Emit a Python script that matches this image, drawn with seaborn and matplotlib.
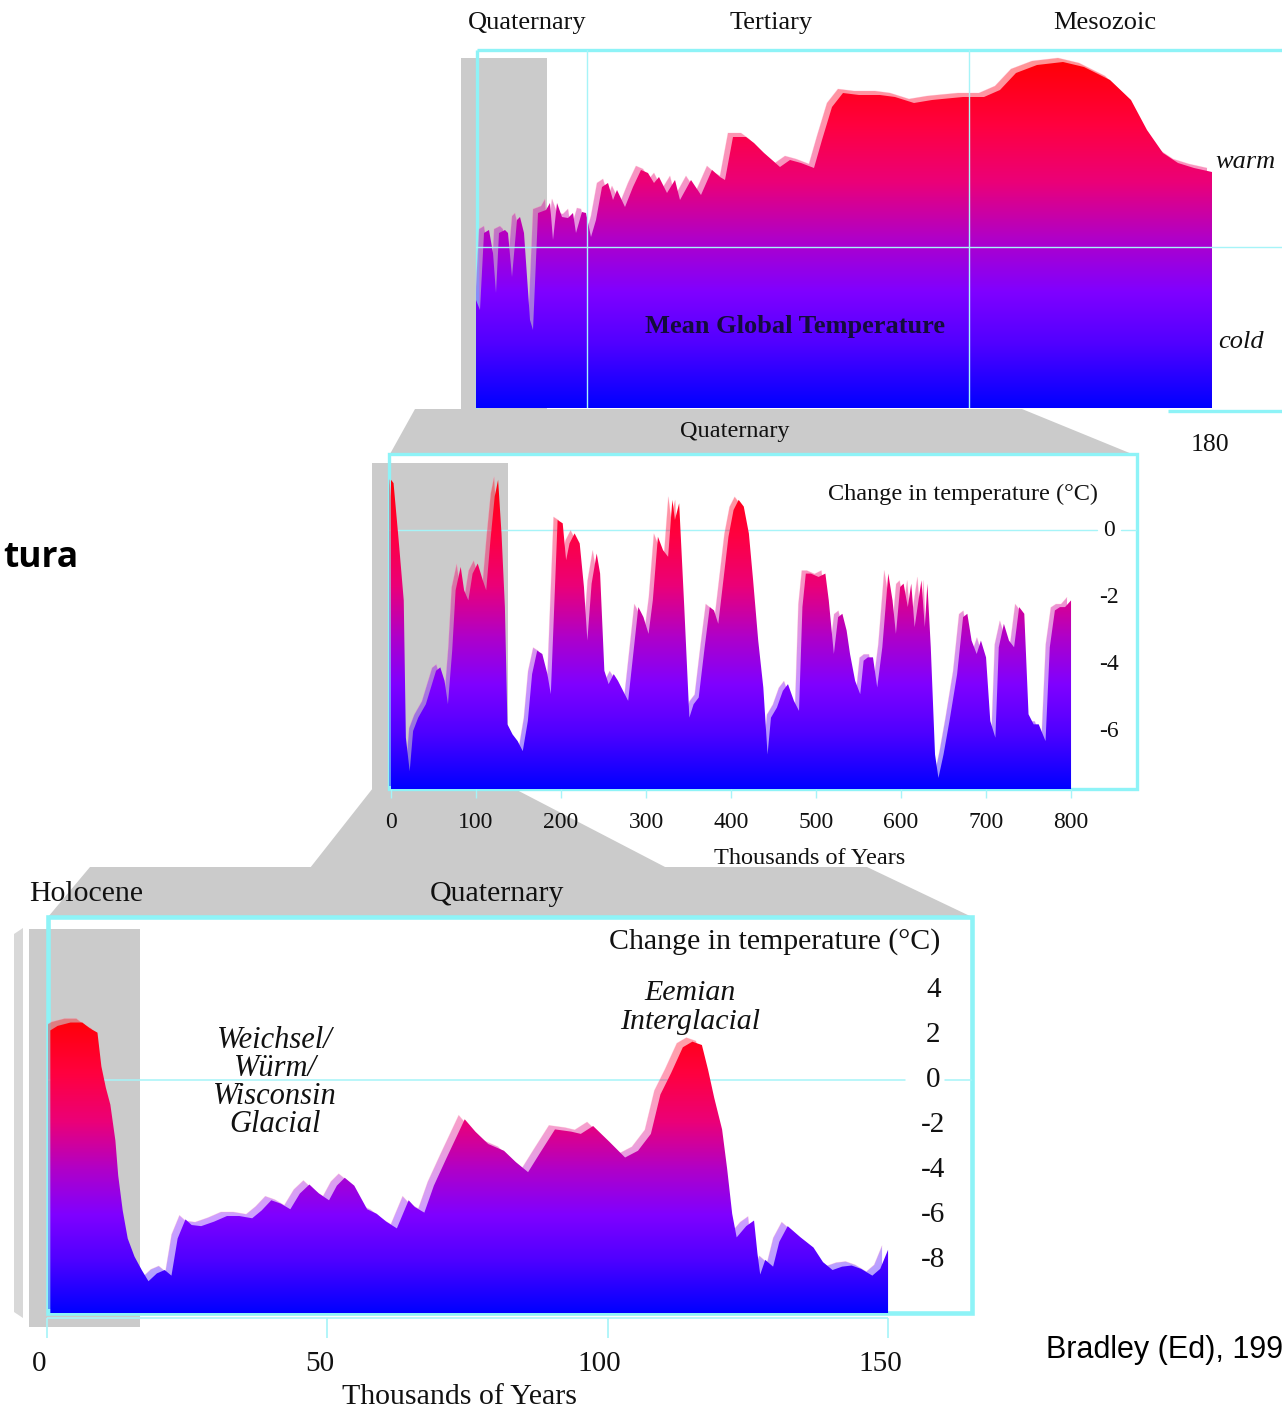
import numpy as np
import matplotlib
matplotlib.use("Agg")
import matplotlib.pyplot as plt
import seaborn as sns
from matplotlib.colors import LinearSegmentedColormap
from matplotlib.patches import Polygon, Rectangle
from matplotlib.transforms import ScaledTranslation, blended_transform_factory

# ---------------- data ----------------
# Panel 1: mean global temperature (relative units) along the geological timeline
P1_POS = [0, 4, 8, 13, 17, 20, 23, 29, 32, 36, 41, 44, 48, 54, 57, 62, 70, 74, 77, 81,
          86, 92, 97, 100, 106, 110, 115, 120, 126, 132, 137, 141, 149, 157, 165, 172,
          178, 183, 191, 199, 204, 215, 225, 236, 244, 249, 257, 270, 278, 288, 304,
          314, 325, 338, 346, 356, 367, 383, 404, 419, 438, 456, 466, 487, 508, 524,
          540, 561, 587, 608, 634, 655, 671, 687, 702, 718, 736]
P1_TEMP = [108, 98, 175, 178, 155, 115, 175, 178, 175, 131, 188, 191, 175, 88, 78, 195,
           198, 205, 168, 205, 191, 190, 195, 175, 196, 195, 171, 188, 221, 225, 208,
           218, 201, 221, 238, 235, 225, 231, 215, 228, 208, 228, 213, 238, 231, 228,
           271, 271, 265, 255, 241, 248, 245, 240, 268, 301, 315, 313, 313, 311, 305,
           308, 309, 311, 311, 318, 335, 343, 346, 341, 328, 308, 278, 255, 245, 240, 236]
P1_ERA_BOUNDS = [111, 493]
P1_WARM_COLD = 161

# Panel 2: last 800 kyr
P2_KYR = [0, 3, 9, 15, 17.5, 22, 26, 32, 41, 47, 53, 58, 63, 67, 72, 76, 82, 86, 91, 96,
          102, 108, 112, 117, 122, 126, 130, 134, 137, 143, 149, 155, 161, 166, 172, 178,
          184, 188, 192, 196, 202, 206, 210, 216, 222, 227, 231, 236, 242, 246, 251, 256,
          262, 267, 273, 279, 285, 291, 297, 303, 308, 314, 320, 326, 331, 334, 339, 345,
          351, 356, 362, 369, 375, 380, 385, 391, 397, 403, 409, 415, 421, 426, 432, 438,
          443, 447, 454, 461, 467, 474, 480, 484, 488, 494, 503, 511, 515, 521, 526, 531,
          536, 540, 546, 552, 556, 561, 567, 572, 578, 585, 590, 594, 599, 603, 608, 612,
          616, 624, 628, 631, 635, 640, 644, 650, 657, 666, 673, 678, 683, 689, 694, 700,
          705, 711, 715, 721, 727, 733, 739, 745, 750, 756, 762, 770, 775, 781, 787, 793, 800]
P2_TEMP = [1.5, 1.4, -0.3, -2.1, -6.2, -7.2, -6.0, -5.6, -5.2, -4.7, -4.2, -4.1, -4.5, -5.2,
           -3.6, -1.8, -1.1, -1.8, -2.1, -1.3, -1.0, -1.5, -1.8, -0.3, 1.0, 1.5, -0.1, -2.3,
           -5.8, -6.1, -6.3, -6.6, -5.7, -4.3, -3.6, -3.7, -4.3, -4.9, -2.3, 0.3, 0.2, -0.9,
           -0.4, -0.1, -0.4, -1.7, -3.3, -1.6, -0.7, -1.3, -4.2, -4.6, -4.3, -4.5, -4.8,
           -5.1, -3.7, -2.3, -2.6, -3.1, -2.1, -0.2, -0.6, -0.8, 0.9, 0.3, 0.8, -2.3, -5.6,
           -5.2, -5.0, -3.5, -2.3, -2.4, -2.8, -1.5, -0.2, 0.6, 0.9, 0.7, -0.1, -1.5, -3.3,
           -4.7, -6.7, -5.6, -5.3, -4.8, -4.6, -5.1, -5.4, -2.3, -1.3, -1.3, -1.4, -1.3,
           -2.1, -3.7, -2.6, -2.5, -3.0, -3.7, -4.5, -4.9, -3.9, -3.8, -3.8, -4.7, -3.5,
           -1.3, -2.1, -3.1, -1.7, -1.6, -2.3, -1.6, -2.9, -1.5, -2.9, -1.6, -3.5, -6.7,
           -7.4, -6.7, -5.7, -4.3, -2.6, -2.5, -3.3, -3.7, -3.3, -3.8, -5.7, -6.2, -3.5,
           -2.8, -3.3, -3.5, -2.3, -2.5, -5.5, -5.8, -5.8, -6.3, -3.5, -2.4, -2.3, -2.3, -2.1]
P2_XTICKS = [0, 100, 200, 300, 400, 500, 600, 700, 800]
P2_YTICKS = [0, -2, -4, -6]

# Panel 3: last 150 kyr
P3_KYR = [0.6, 1.9, 4.2, 6.3, 7.6, 9.0, 9.7, 10.5, 11.3, 12.2, 12.7, 13.5, 14.4, 15.6,
          16.9, 18.1, 19.6, 21.0, 22.2, 23.3, 24.7, 25.8, 27.5, 29.8, 32.1, 34.3, 36.6,
          38.3, 40.0, 41.7, 43.4, 45.1, 46.8, 48.5, 50.3, 51.7, 53.1, 54.8, 57.1, 58.8,
          60.5, 62.4, 64.5, 65.6, 67.3, 69.0, 71.3, 73.0, 74.5, 76.4, 78.7, 81.5, 83.6,
          85.8, 87.8, 90.6, 93.5, 95.2, 97.4, 100.3, 103.1, 105.4, 107.7, 109.4, 111.3,
          113.4, 115.1, 116.8, 117.9, 119.0, 120.4, 121.3, 122.2, 123.0, 124.7, 126.1,
          126.7, 127.2, 128.1, 129.5, 130.6, 132.1, 134.4, 136.7, 138.4, 140.1, 141.8,
          143.5, 145.2, 147.2, 148.6, 150.0]
P3_TEMP = [2.2, 2.4, 2.55, 2.55, 2.3, 2.1, 0.6, -0.35, -1.1, -2.7, -4.25, -5.8, -7.05,
           -7.85, -8.45, -8.95, -8.6, -8.45, -8.7, -7.05, -6.2, -6.45, -6.5, -6.3, -6.05,
           -6.05, -6.15, -5.8, -5.35, -5.5, -5.75, -5.05, -4.65, -5.05, -5.35, -4.7, -4.35,
           -4.7, -5.75, -5.95, -6.3, -6.6, -5.35, -5.65, -5.9, -4.7, -3.45, -2.55, -1.75,
           -2.3, -2.85, -3.15, -3.65, -4.1, -3.3, -2.2, -2.3, -2.4, -2.05, -2.75, -3.45,
           -3.15, -2.4, -0.65, 0.3, 1.45, 1.7, 1.55, 0.45, -0.8, -2.2, -3.95, -5.95, -7.0,
           -6.5, -6.25, -7.7, -8.65, -8.0, -8.3, -7.2, -6.5, -7.0, -7.45, -8.1, -8.45,
           -8.3, -8.25, -8.4, -8.7, -8.4, -7.55]
P3_XTICKS = [0, 50, 100, 150]
P3_YTICKS = [4, 2, 0, -2, -4, -6, -8]

# ---------------- style ----------------
sns.set_theme(style="white")
plt.rcParams['font.family'] = ['Liberation Serif', 'DejaVu Serif']

W, H = 1282, 1411
fig = plt.figure(figsize=(W / 100, H / 100), dpi=100)
fig.patch.set_facecolor('white')

GRAY = '#cbcbcb'
CYAN = '#8ef3f7'
CYAN_THIN = '#a6f4f8'
TXT = '#111111'

CMAP = LinearSegmentedColormap.from_list("temp", [
    (0.00, (0.0, 0.0, 1.0)),
    (0.18, (80 / 255, 0.0, 1.0)),
    (0.33, (128 / 255, 0.0, 1.0)),
    (0.48, (176 / 255, 0.0, 200 / 255)),
    (0.64, (235 / 255, 0.0, 120 / 255)),
    (0.80, (1.0, 0.0, 64 / 255)),
    (1.00, (1.0, 0.0, 0.0)),
])


def px_rect(x0, y0, x1, y1):
    return [x0 / W, 1 - y1 / H, (x1 - x0) / W, (y1 - y0) / H]


def gradient_area(ax, x, y, base, lo, hi, dx, dy, shadow_alpha=0.42):
    poly = ax.fill_between(x, y, base, facecolor='none', edgecolor='none')
    path = poly.get_paths()[0]
    grad = np.linspace(0, 1, 512).reshape(-1, 1)
    span = max(x) - min(x)
    ext = [min(x) - 0.05 * span, max(x) + 0.05 * span, lo, hi]
    off = ScaledTranslation(dx / 100, dy / 100, fig.dpi_scale_trans)
    sh = ax.imshow(grad, cmap=CMAP, extent=ext, origin='lower', aspect='auto',
                   alpha=shadow_alpha, zorder=2, interpolation='bilinear', vmin=0, vmax=1)
    sh.set_clip_path(path, ax.transData + off)
    im = ax.imshow(grad, cmap=CMAP, extent=ext, origin='lower', aspect='auto',
                   zorder=3, interpolation='bilinear', vmin=0, vmax=1)
    im.set_clip_path(path, ax.transData)
    sns.lineplot(x=x, y=y, ax=ax, color='#ffa0c0', lw=0.6, alpha=0.3,
                 estimator=None, sort=False, transform=ax.transData + off, zorder=2)


# ---------------- background decorations ----------------
bg = fig.add_axes([0, 0, 1, 1], zorder=0)
bg.set_xlim(0, W)
bg.set_ylim(H, 0)
bg.axis('off')

for patch in [
    Rectangle((461, 58), 86, 352),
    Polygon([(415, 409), (1022, 409), (1132, 454), (390, 454)], closed=True),
    Rectangle((372, 463), 136, 326),
    Polygon([(373, 788), (513, 788), (667, 868), (310, 868)], closed=True),
    Polygon([(90, 867), (867, 867), (972, 917), (48, 917)], closed=True),
    Rectangle((29, 929), 111, 398),
]:
    patch.set_facecolor(GRAY)
    patch.set_edgecolor('none')
    patch.set_zorder(1)
    bg.add_patch(patch)
bg.add_patch(Polygon([(14, 934), (23, 928), (23, 1318), (14, 1312)], closed=True,
                     fc='#d8d8d8', ec='none', zorder=1))

# frames
bg.plot([477, 1282], [50, 50], color=CYAN, lw=2.4, zorder=3, solid_capstyle='butt')
bg.plot([477, 477], [50, 408], color=CYAN, lw=2.4, zorder=3, solid_capstyle='butt')
bg.plot([1168, 1282], [411, 411], color=CYAN, lw=2.4, zorder=3, solid_capstyle='butt')
bg.add_patch(Rectangle((389, 454), 748, 335, fill=False, ec=CYAN, lw=2.4, zorder=3))
bg.add_patch(Rectangle((48, 917), 924, 396, fill=False, ec=CYAN, lw=3.3, zorder=3))

# ---------------- panel 1 ----------------
ax1 = fig.add_axes(px_rect(476, 50, 1282, 408), zorder=1)
ax1.axis('off')
gradient_area(ax1, P1_POS, P1_TEMP, base=0, lo=0, hi=352, dx=-5, dy=4)
ax1.axhline(P1_WARM_COLD, color=CYAN_THIN, lw=1.0, zorder=6)
for b in P1_ERA_BOUNDS:
    ax1.axvline(b, color=CYAN_THIN, lw=1.0, zorder=6)
ax1.set_xlim(0, 806)
ax1.set_ylim(0, 358)

# ---------------- panel 2 ----------------
ax2 = fig.add_axes(px_rect(389, 454, 1137, 789), zorder=1)
ax2.axis('off')
ax2.axhline(0, xmin=0, xmax=(1097 - 389) / 748, color=CYAN_THIN, lw=1.0, zorder=1)
ax2.axhline(0, xmin=(1121 - 389) / 748, xmax=1, color=CYAN_THIN, lw=1.0, zorder=1)
gradient_area(ax2, P2_KYR, P2_TEMP, base=-7.73, lo=-7.73, hi=1.75, dx=-4, dy=3)
ax2.set_xlim(-2.35, 877.6)
ax2.set_ylim(-7.73, 2.27)
tr2x = blended_transform_factory(ax2.transData, ax2.transAxes)
tr2y = blended_transform_factory(ax2.transAxes, ax2.transData)
ax2.vlines(P2_XTICKS, -9 / 335, 0, transform=tr2x, color=CYAN_THIN, lw=1.0, clip_on=False)
for t in P2_XTICKS:
    ax2.text(t, -33 / 335, str(t), transform=tr2x, ha='center', va='center',
             fontsize=17, color=TXT, clip_on=False)
for v in P2_YTICKS:
    ax2.text(0.9626, v, str(v), transform=tr2y, ha='center', va='center',
             fontsize=17, color=TXT, clip_on=False, zorder=8)

# ---------------- panel 3 ----------------
ax3 = fig.add_axes(px_rect(48, 917, 972, 1313), zorder=1)
ax3.axis('off')
ax3.axhline(0, xmin=0, xmax=(905 - 48) / 924, color=CYAN_THIN, lw=1.1, zorder=1)
ax3.axhline(0, xmin=(945 - 48) / 924, xmax=1, color=CYAN_THIN, lw=1.1, zorder=1)
gradient_area(ax3, P3_KYR, P3_TEMP, base=-10.36, lo=-10.36, hi=2.9, dx=-6, dy=4,
              shadow_alpha=0.38)
ax3.set_xlim(0.18, 164.97)
ax3.set_ylim(-10.36, 7.24)
tr3x = blended_transform_factory(ax3.transData, ax3.transAxes)
tr3y = blended_transform_factory(ax3.transAxes, ax3.transData)
ax3.vlines(P3_XTICKS, -25 / 396, -5 / 396, transform=tr3x, color=CYAN_THIN, lw=1.2,
           clip_on=False)
ax3.hlines(-5 / 396, min(P3_XTICKS), max(P3_XTICKS), transform=tr3x, color=CYAN_THIN,
           lw=1.2, clip_on=False)
lbl3 = tr3x + ScaledTranslation(-0.08, 0, fig.dpi_scale_trans)
for t in P3_XTICKS:
    ax3.text(t, -51 / 396, str(t), transform=lbl3, ha='center', va='center',
             fontsize=21, color=TXT, clip_on=False)
for v in P3_YTICKS:
    ax3.text(0.958, v, str(v), transform=tr3y, ha='center', va='center',
             fontsize=21, color=TXT, clip_on=False, zorder=8)

# ---------------- overlay texts ----------------
top = fig.add_axes([0, 0, 1, 1], zorder=5)
top.set_xlim(0, W)
top.set_ylim(H, 0)
top.axis('off')

def t(x, y, s, size, **kw):
    kw.setdefault('color', TXT)
    top.text(x, y, s, fontsize=size, ha=kw.pop('ha', 'center'), va=kw.pop('va', 'center'), **kw)

t(527, 23, "Quaternary", 19)
t(771, 23, "Tertiary", 19)
t(1105, 23, "Mesozoic", 19)
t(1245, 162, "warm", 19, style='italic')
t(1241, 342, "cold", 19, style='italic')
t(795, 326, "Mean Global Temperature", 19, weight='bold', color='#140c3c')
t(1210, 445, "180", 18.5)

t(735, 432, "Quaternary", 17.5)
t(963, 494, "Change in temperature (°C)", 17.5)
t(810, 858, "Thousands of Years", 17.5)

t(86, 894, "Holocene", 21.5)
t(497, 894, "Quaternary", 21.5)
t(775, 942, "Change in temperature (°C)", 21.5)
t(690, 993, "Eemian", 21.5, style='italic')
t(690, 1022, "Interglacial", 21.5, style='italic')
for s, yy in zip(["Weichsel/", "Würm/", "Wisconsin", "Glacial"], [1040, 1068, 1097, 1125]):
    t(275, yy, s, 22, style='italic')
t(460, 1404, "Thousands of Years", 21.5, va='baseline')

t(78, 558, "tura", 25.5, ha='right', weight='bold', family=['Open Sans', 'DejaVu Sans'],
  color='#000000')
t(1046, 1350, "Bradley (Ed), 199", 22, ha='left', family=['Liberation Sans', 'DejaVu Sans'],
  color='#000000')

fig.savefig("out.png", dpi=100, facecolor='white')
